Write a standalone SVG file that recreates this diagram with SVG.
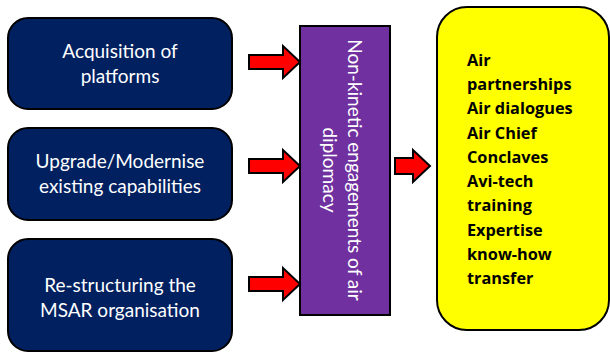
<svg xmlns="http://www.w3.org/2000/svg" width="610" height="354" viewBox="0 0 610 354">
<style>
.src{fill:#002060;stroke:#000;stroke-width:2}
.st{fill:#fff;font-family:Lato,"Liberation Sans",sans-serif;font-size:19px;text-anchor:middle}
.arr{fill:#ff0000;stroke:#000;stroke-width:2;stroke-linejoin:miter}
.yt{fill:#000;font-family:"Open Sans","Liberation Sans",sans-serif;font-size:16.3px;font-weight:bold}
</style>
<rect width="610" height="354" fill="#fff"/>
<g id="acq">
<rect class="src" x="8" y="18" width="224" height="91" rx="20"/>
<text class="st" x="120" y="58">Acquisition of</text>
<text class="st" x="120" y="83">platforms</text>
</g>
<g id="upg">
<rect class="src" x="8" y="128" width="224" height="92" rx="20"/>
<text class="st" x="120" y="168">Upgrade/Modernise</text>
<text class="st" x="120" y="193">existing capabilities</text>
</g>
<g id="restr">
<rect class="src" x="8" y="239" width="224" height="112" rx="20"/>
<text class="st" x="120" y="292">Re-structuring the</text>
<text class="st" x="120" y="317">MSAR organisation</text>
</g>
<g id="nonkinetic">
<rect x="300" y="26" width="90" height="289" fill="#7030a0" stroke="#000" stroke-width="2"/>
<text class="st" transform="translate(348,170) rotate(90)" x="0" y="0" fill="#f0e8ff">Non-kinetic engagements of air</text>
<text class="st" transform="translate(323,170) rotate(90)" x="0" y="0" fill="#f0e8ff">diplomacy</text>
</g>
<g id="outcomes">
<rect x="437" y="7" width="172" height="323" rx="30" fill="#ffff00" stroke="#000" stroke-width="2"/>
<text class="yt" x="467" y="66">Air</text>
<text class="yt" x="467" y="90">partnerships</text>
<text class="yt" x="467" y="114">Air dialogues</text>
<text class="yt" x="467" y="139">Air Chief</text>
<text class="yt" x="467" y="163">Conclaves</text>
<text class="yt" x="467" y="187">Avi-tech</text>
<text class="yt" x="467" y="211">training</text>
<text class="yt" x="467" y="236">Expertise</text>
<text class="yt" x="467" y="260">know-how</text>
<text class="yt" x="467" y="284">transfer</text>
</g>
<g id="connectors">
<polygon class="arr" points="249,55 283,55 283,46 300,62 283,78 283,69 249,69"/>
<polygon class="arr" points="249,159 283,159 283,150 300,166 283,182 283,173 249,173"/>
<polygon class="arr" points="249,277 283,277 283,268 300,284 283,300 283,291 249,291"/>
<polygon class="arr" points="395,158 413,158 413,150 430,166 413,182 413,174 395,174"/>
</g>
</svg>
